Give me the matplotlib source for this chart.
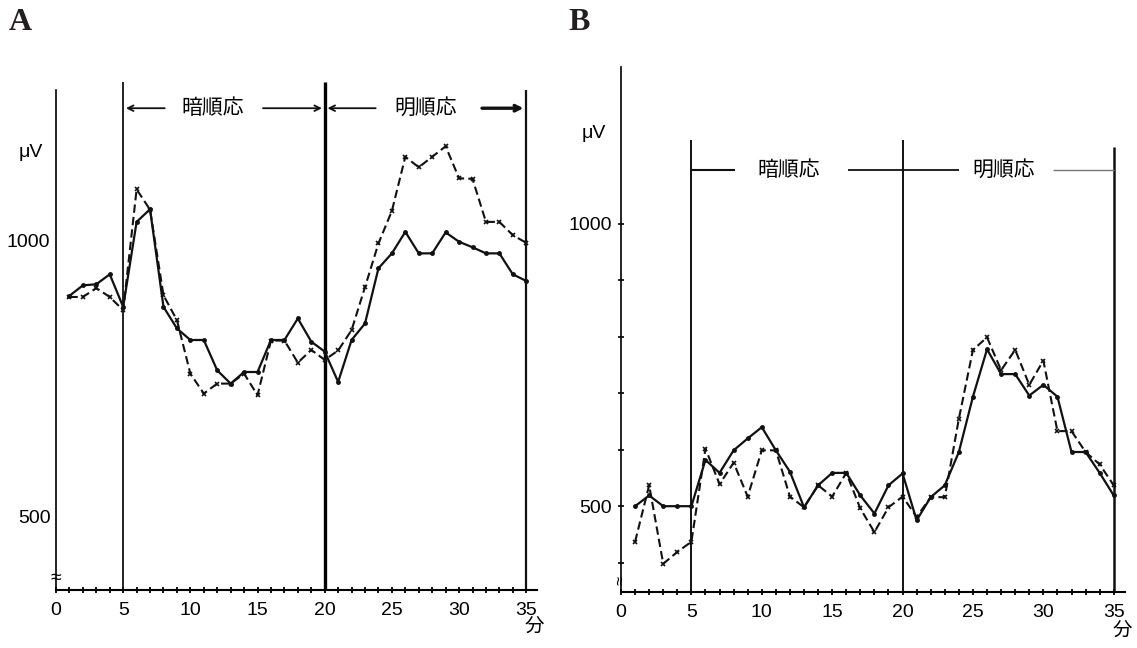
import numpy as np
import matplotlib
matplotlib.use("Agg")
from matplotlib import pyplot as plt

plt.rcParams['font.family'] = ['Liberation Sans', 'Noto Sans CJK JP', 'DejaVu Sans']

minutes = np.arange(1, 36)
xticks = [0, 5, 10, 15, 20, 25, 30, 35]

# panel A (uV)
a_solid = [899, 918, 920, 938, 879, 1033, 1056, 879, 840, 819, 819, 764, 740, 761, 761,
           819, 819, 858, 816, 798, 743, 819, 849, 949, 976, 1015, 976, 976, 1014, 997,
           987, 976, 976, 938, 926]
a_dash = [897, 897, 913, 897, 873, 1092, 1055, 900, 855, 758, 722, 740, 740, 758, 719,
          818, 818, 778, 801, 783, 800, 837, 915, 994, 1053, 1151, 1132, 1151, 1170, 1112,
          1111, 1033, 1033, 1009, 995]
a_yticks = [500, 1000]

# panel B (uV)
b_solid = [500, 519, 500, 500, 500, 582, 559, 599, 620, 640, 599, 561, 498, 537, 559,
           559, 519, 487, 537, 558, 475, 516, 537, 596, 694, 778, 734, 734, 696, 715,
           694, 596, 596, 559, 519]
b_dash = [437, 537, 398, 419, 437, 602, 539, 577, 517, 599, 599, 517, 498, 537, 517,
          559, 496, 454, 498, 517, 481, 516, 516, 655, 777, 799, 741, 777, 715, 758,
          633, 633, 596, 574, 537]
b_yticks = [500, 1000]
b_minor = [400, 500, 600, 700, 800, 900, 1000]

phases = ["暗順応", "明順応"]

fig = plt.figure(figsize=(11.37, 6.48), dpi=100)
fig.patch.set_facecolor('white')

def setup(ax, ylim):
  ax.set_xlim(0, 35.8)
  ax.set_ylim(*ylim)
  for s in ['top', 'right']:
    ax.spines[s].set_visible(False)
  ax.spines['left'].set_linewidth(1.2)
  ax.spines['bottom'].set_linewidth(1.5)
  ax.set_xticks(xticks)
  ax.set_xticks(minutes, minor=True)
  ax.tick_params(axis='x', which='both', direction='inout', length=5, width=1.3, labelsize=14, pad=6)
  ax.tick_params(axis='x', which='minor', length=4)
  ax.text(35.6, ylim[0] - (ylim[1] - ylim[0]) * 0.075, "分", fontsize=14, ha='center', va='center', clip_on=False)

def draw(ax, solid, dash):
  ax.plot(minutes, solid, color='#111111', lw=1.6, marker='o', ms=2.5, clip_on=False)
  ax.plot(minutes, dash, color='#111111', lw=1.5, ls=(0, (4, 2)), marker='x', ms=3.5, mew=1.2, clip_on=False)

# ---- A
axA = fig.add_axes([56 / 1137, 58 / 648, 481 / 1137, 500 / 648])
setup(axA, (366, 1272))
axA.set_yticks(a_yticks)
axA.tick_params(axis='y', length=0, labelsize=14, pad=4)
axA.vlines([5], 366, 1286, color='#111111', lw=1.3, clip_on=False)
axA.vlines([20], 366, 1286, color='#000000', lw=2.4, clip_on=False)
axA.vlines([35], 366, 1272, color='#111111', lw=1.6, clip_on=False)
draw(axA, a_solid, a_dash)
ya = 1239
ap = dict(arrowstyle='->', color='#111111', lw=1.3)
axA.annotate('', xy=(5, ya), xytext=(8.3, ya), arrowprops=ap)
axA.annotate('', xy=(20, ya), xytext=(15.2, ya), arrowprops=ap)
axA.annotate('', xy=(20, ya), xytext=(24.0, ya), arrowprops=ap)
axA.annotate('', xy=(35, ya), xytext=(31.5, ya), arrowprops=dict(arrowstyle='->', color='#111111', lw=2.4))
axA.text(11.7, ya, phases[0], fontsize=15, ha='center', va='center')
axA.text(27.5, ya, phases[1], fontsize=15, ha='center', va='center')
axA.text(-1.9, 1158, "μV", fontsize=14, ha='center', va='center', clip_on=False)
axA.text(0, 386, "≈", fontsize=14, ha='center', va='center', clip_on=False)
fig.text(9 / 1137, 1 - 30 / 648, "A", fontsize=23, fontweight='bold', family='Liberation Serif',
         color='#231f20', va='baseline')

# ---- B
axB = fig.add_axes([621 / 1137, 56 / 648, 504 / 1137, 525 / 648])
setup(axB, (348, 1278))
axB.set_yticks(b_yticks)
axB.set_yticks(b_minor, minor=True)
axB.tick_params(axis='y', which='both', direction='inout', length=5, width=1.2, labelsize=14, pad=4)
axB.vlines([5, 20], 348, 1149, color='#111111', lw=1.4)
axB.vlines([35], 348, 1137, color='#111111', lw=1.8)
draw(axB, b_solid, b_dash)
yb = 1096
axB.hlines(yb, 5, 8.1, color='#111111', lw=1.5)
axB.hlines(yb, 16.1, 24.0, color='#111111', lw=1.3)
axB.hlines(yb, 30.7, 35, color='#777777', lw=1.0)
axB.text(11.9, yb, phases[0], fontsize=15, ha='center', va='center')
axB.text(27.2, yb, phases[1], fontsize=15, ha='center', va='center')
axB.text(-1.9, 1160, "μV", fontsize=14, ha='center', va='center', clip_on=False)
axB.text(0, 368, "≈", fontsize=12, ha='center', va='center', rotation=90, clip_on=False)
fig.text(568 / 1137, 1 - 30 / 648, "B", fontsize=23, fontweight='bold', family='Liberation Serif',
         color='#231f20', va='baseline')

plt.savefig("out.png", dpi=100)
